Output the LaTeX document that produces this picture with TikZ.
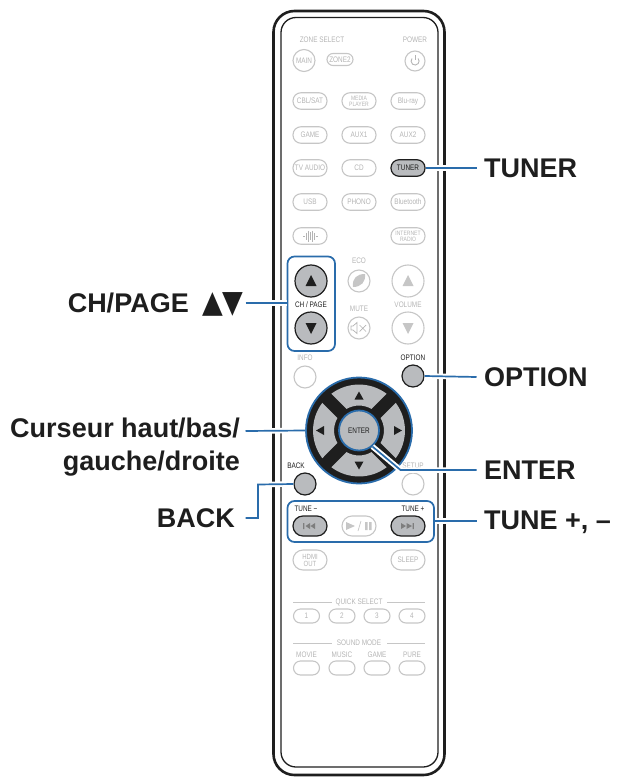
\documentclass[tikz,border=0pt]{standalone}
\usepackage{fontspec}
\setmainfont{Liberation Sans}
\newfontfamily\narrowf[FakeStretch=0.8]{Liberation Sans}
\usetikzlibrary{calc}
\definecolor{leadc}{HTML}{2A6CAB}
\definecolor{faint}{HTML}{C6C6C6}
\definecolor{faintt}{HTML}{B4B4B4}
\definecolor{keyg}{HTML}{B9BBBE}
\definecolor{ink}{HTML}{1E1E1E}
\tikzset{
 pillkey/.style={draw=faint,line width=1.1pt,rounded corners=8pt,minimum width=#1,minimum height=16.5pt,inner sep=0pt,text=faintt,font=\narrowf\fontsize{8}{8}\selectfont,align=center},
 pillkey/.default=34pt,
 tinytext/.style={font=\narrowf\fontsize{6.3}{6}\selectfont},
 smallkey/.style={pillkey=26pt,minimum height=14pt,rounded corners=7pt},
 hotkey/.style={pillkey=34pt,draw=ink,line width=1.2pt,fill=keyg,text=ink,minimum height=20pt,rounded corners=10pt},
 roundkey/.style={circle,draw=faint,line width=1.1pt,minimum size=#1,inner sep=0pt,text=faintt},
 roundkey/.default=22pt,
 hotround/.style={circle,draw=ink,line width=1.2pt,fill=keyg,minimum size=#1,inner sep=0pt},
 hotround/.default=22pt,
 keycap/.style={text=faintt,font=\narrowf\fontsize{8}{8}\selectfont,inner sep=0pt},
 hotcap/.style={text=ink,font=\narrowf\fontsize{8}{8}\selectfont,inner sep=0pt},
 lbl/.style={font=\fontsize{27}{33}\selectfont\bfseries,text=ink,inner sep=0pt},
 leadline/.style={draw=leadc,line width=1.7pt,preaction={draw=white,line width=5.5pt}},
 framebox/.style={draw=leadc,line width=1.7pt,rounded corners=7pt},
}
\begin{document}
\begin{tikzpicture}[x=1pt,y=-1pt]
\useasboundingbox (0,0) rectangle (618,778);
% body
\draw[line width=2.6pt,ink,rounded corners=21pt] (273.5,11) rectangle (444.5,775);
\draw[line width=1.3pt,ink,rounded corners=15pt] (281,17.5) rectangle (438,767);
% top
\node[keycap] (czone) at (322,40) {ZONE SELECT};
\node[keycap] (cpower) at (415,40) {POWER};
\node[roundkey=22pt,font=\narrowf\fontsize{8}{8}\selectfont] (main) at (304,60.5) {MAIN};
\node[pillkey=26pt,minimum height=12pt,rounded corners=6pt] (zone2) at (340,59.5) {ZONE2};
\node[roundkey=20pt] (power) at (415,61) {};
\draw[faintt,line width=.9pt] ($(power)+(-3,-2.5)$) arc[start angle=220,end angle=-40,radius=4];
\draw[faintt,line width=.9pt] ($(power)+(0,-6)$) -- ($(power)+(0,-1)$);
\node[pillkey] (cbl) at (310,101) {CBL/SAT};
\node[pillkey,tinytext] (media) at (359,101) {MEDIA\\PLAYER};
\node[pillkey] (bluray) at (408,101) {Blu-ray};
\node[pillkey] (game) at (310,135) {GAME};
\node[pillkey] (aux1) at (359,135) {AUX1};
\node[pillkey] (aux2) at (408,135) {AUX2};
\node[pillkey] (tvaudio) at (310,168) {TV AUDIO};
\node[pillkey] (cd) at (359,168) {CD};
\node[hotkey,minimum height=16.5pt,rounded corners=8pt] (tuner) at (408,168) {TUNER};
\node[pillkey] (usb) at (310,202) {USB};
\node[pillkey] (phono) at (359,202) {PHONO};
\node[pillkey] (bt) at (408,202) {Bluetooth};
\node[pillkey] (heos) at (310,236) {};
\draw[faintt,line width=.8pt] (303,236)--(305,236) (306,232.5)--(306,239.5) (308,230.5)--(308,241.5) (310,232)--(310,240) (312,230.5)--(312,241.5) (314,232.5)--(314,239.5) (315.5,236)--(317.5,236);
\node[pillkey,tinytext] (inet) at (408,236) {INTERNET\\RADIO};
% CH / volume
\node[hotround=32pt] (chup) at (311,281) {};
\fill[ink] ($(chup)+(0,-6)$) -- ($(chup)+(5.5,5)$) -- ($(chup)+(-5.5,5)$) -- cycle;
\node[hotround=32pt] (chdn) at (311,328) {};
\fill[ink] ($(chdn)+(0,6)$) -- ($(chdn)+(5.5,-5)$) -- ($(chdn)+(-5.5,-5)$) -- cycle;
\node[hotcap] (chp) at (311,305) {CH / PAGE};
\draw[framebox] (287.5,256.5) rectangle (335,351);
\node[keycap] (ceco) at (359,261) {ECO};
\node[roundkey] (eco) at (359,281) {};
\fill[faint] (353,287) .. controls (352,278) and (357,274) .. (365,274) .. controls (366,282) and (361,287) .. (353,287) -- cycle;
\node[keycap] (cmute) at (359,309) {MUTE};
\node[roundkey] (mute) at (359,328) {};
\draw[faintt,line width=.7pt] (351,326)--(353,326)--(357,322.5)--(357,333.5)--(353,330)--(351,330)--cycle (359.5,325)--(366,331.5) (366,325)--(359.5,331.5);
\node[roundkey=32pt] (volup) at (408,281) {};
\fill[faint] ($(volup)+(0,-6)$) -- ($(volup)+(5.5,5)$) -- ($(volup)+(-5.5,5)$) -- cycle;
\node[keycap] (cvol) at (408,305) {VOLUME};
\node[roundkey=32pt] (voldn) at (408,328) {};
\fill[faint] ($(voldn)+(0,6)$) -- ($(voldn)+(5.5,-5)$) -- ($(voldn)+(-5.5,-5)$) -- cycle;
% info / option
\node[keycap] (cinfo) at (305,358) {INFO};
\node[roundkey] (info) at (305,377) {};
\node[hotcap] (copt) at (413,358) {OPTION};
\node[hotround] (option) at (413,376) {};
% setup, back
\node[keycap] (csetup) at (413,466) {SETUP};
\node[roundkey] (setup) at (413,484) {};
\node[hotcap] (cback) at (296,466) {BACK};
\node[hotround] (back) at (305,484) {};
% dpad
\node[circle,draw=leadc,fill=ink,line width=1.8pt,minimum size=106pt,inner sep=0pt] (dpad) at (359,430.5) {};
\foreach \a in {90,0,-90,180}{
 \begin{scope}[shift={(dpad.center)},rotate=\a]
 \fill[keyg] (-27.7,-36.7) arc[start angle=233,end angle=307,radius=46] -- (12.5,-21.6) arc[start angle=300,end angle=240,radius=25] -- cycle;
 \end{scope}
}
\fill[ink] ($(dpad)+(0,-39)$) -- ($(dpad)+(4.5,-31)$) -- ($(dpad)+(-4.5,-31)$) -- cycle;
\fill[ink] ($(dpad)+(0,39)$) -- ($(dpad)+(4.5,31)$) -- ($(dpad)+(-4.5,31)$) -- cycle;
\fill[ink] ($(dpad)+(-43,0)$) -- ($(dpad)+(-35,-4.5)$) -- ($(dpad)+(-35,4.5)$) -- cycle;
\fill[ink] ($(dpad)+(43,0)$) -- ($(dpad)+(35,-4.5)$) -- ($(dpad)+(35,4.5)$) -- cycle;
\node[circle,draw=leadc,line width=1.8pt,fill=keyg,minimum size=40pt,inner sep=0pt,font=\narrowf\fontsize{8}{8}\selectfont,text=ink] (enter) at (359,430.5) {ENTER};
% tune
\node[hotcap] (ctm) at (306,509) {TUNE −};
\node[hotcap] (ctp) at (413,509) {TUNE +};
\node[hotkey] (prev) at (310,526) {};
\node[pillkey=34pt,minimum height=20pt,rounded corners=10pt] (play) at (359,526) {};
\node[hotkey] (next) at (408,526) {};
\fill[faintt!70!black] (303,523) rectangle (304.3,529) (310,523)--(310,529)--(305.5,526)--cycle (315,523)--(315,529)--(310.5,526)--cycle;
\fill[faintt!70!black] (412.5,523) rectangle (413.8,529) (401,523)--(401,529)--(406,526)--cycle (406.5,523)--(406.5,529)--(412,526)--cycle;
\fill[faint] (346,522) -- (346,530) -- (355,526) -- cycle;
\draw[faint,line width=.7pt] (361,521)--(358,531);
\fill[faint] (365,522) rectangle (367.5,530) (369,522) rectangle (371.5,530);
\draw[framebox] (287.5,501) rectangle (434,542);
\node[pillkey,tinytext,font=\narrowf\fontsize{7.5}{7}\selectfont,minimum height=20pt,rounded corners=10pt] (hdmi) at (310,560) {HDMI\\OUT};
\node[pillkey,minimum height=20pt,rounded corners=10pt] (sleep) at (408,560) {SLEEP};
% quick select
\node[keycap] (cquick) at (359,602) {QUICK SELECT};
\draw[faint,line width=.7pt] (293,602) -- (332,602) (387,602) -- (425,602);
\node[smallkey] (q1) at (306.5,616) {1};
\node[smallkey] (q2) at (342,616) {2};
\node[smallkey] (q3) at (377,616) {3};
\node[smallkey] (q4) at (412,616) {4};
\node[keycap] (csound) at (359,643) {SOUND MODE};
\draw[faint,line width=.7pt] (293,643) -- (332,643) (387,643) -- (425,643);
\node[keycap] (cmov) at (306.5,655) {MOVIE};
\node[keycap] (cmus) at (342,655) {MUSIC};
\node[keycap] (cgam) at (377,655) {GAME};
\node[keycap] (cpur) at (412,655) {PURE};
\node[smallkey] (s1) at (306.5,668) {};
\node[smallkey] (s2) at (342,668) {};
\node[smallkey] (s3) at (377,668) {};
\node[smallkey] (s4) at (412,668) {};
% labels
\node[lbl,anchor=west] (ltuner) at (484,168) {TUNER};
\node[lbl,anchor=west] (loption) at (484,377) {OPTION};
\node[lbl,anchor=west] (lenter) at (484,470) {ENTER};
\node[lbl,anchor=west] (ltune) at (484,522) {TUNE +, –};
\node[lbl,anchor=east] (lch) at (243,304.5) {CH/PAGE\hspace{14pt}{\fontspec{DejaVu Sans}\scalebox{1}[1.15]{▲\kern-1.5pt▼}}};
\node[lbl,anchor=east,align=right] (lcur) at (240,447) {Curseur haut/bas/\\gauche/droite};
\node[lbl,anchor=east] (lback) at (235,518) {BACK};
% connectors
\coordinate (jt) at (476.5,168);
\coordinate (jo) at (476.5,377);
\coordinate (je) at (476.5,470);
\coordinate (jtu) at (476.5,521);
\coordinate (jc) at (245.5,303);
\coordinate (jd) at (245.5,431);
\coordinate (jb) at (245.5,518);
\coordinate (jback) at (258,484.5);
\coordinate (jbackb) at (258,518);
\coordinate (jenter) at (400.5,470);
\coordinate (jtf) at (434.8,521);
\coordinate (jcf) at (286.8,303);
\draw[leadline] (tuner.east) -- (jt);
\draw[leadline] (option.east) -- (jo);
\draw[leadline] (enter.-50) -- (jenter) -- (je);
\draw[leadline] (jtf) -- (jtu);
\draw[leadline] (jc) -- (jcf);
\draw[leadline] (jd) -- (dpad.180);
\draw[leadline] (back.west) -- (jback) -- (jbackb) -- (jb);
\end{tikzpicture}
\end{document}
